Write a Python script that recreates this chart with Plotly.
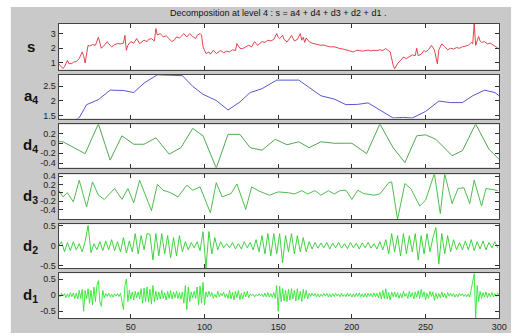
import plotly.graph_objects as go

# ---------------- data ----------------
# sample index runs 1..300
x_range = [1, 300]
x_ticks = [50, 100, 150, 200, 250, 300]

# original signal s (knots: index, value)
s_x = [1, 2, 4, 5, 7, 8, 10, 11, 13, 15, 17, 18, 19, 21, 22, 24, 26, 28, 29, 30,
       32, 34, 35, 37, 39, 41, 43, 45, 46, 47, 48, 50, 52, 54, 56, 58, 59, 61, 62, 64,
       66, 67, 68, 70, 72, 74, 76, 78, 80, 81, 83, 86, 88, 90, 92, 94, 95, 97, 98, 99,
       101, 103, 104, 106, 108, 110, 111, 113, 115, 117, 119, 121, 122, 124, 126, 128, 130, 132, 134, 136,
       138, 139, 141, 143, 145, 147, 149, 150, 151, 153, 154, 156, 158, 159, 161, 163, 165, 166, 167, 168,
       169, 171, 173, 175, 177, 179, 181, 183, 185, 188, 190, 192, 194, 197, 199, 201, 203, 205, 207, 209,
       211, 213, 215, 217, 219, 221, 223, 224, 226, 228, 229, 231, 233, 235, 237, 239, 241, 243, 244, 245,
       247, 249, 250, 252, 254, 256, 258, 259, 261, 263, 265, 267, 269, 271, 273, 275, 277, 279, 281, 282,
       283, 284, 285, 286, 287, 288, 290, 292, 294, 296, 298, 300]
s_y = [0.95, 0.85, 0.62, 0.75, 1.18, 0.95, 0.96, 1.05, 1.10, 1.30, 1.75, 1.50, 1.00, 2.20, 2.15, 2.25, 2.20, 2.75, 2.40, 2.00,
       2.20, 2.45, 2.30, 2.10, 2.25, 2.32, 2.30, 2.35, 2.88, 1.86, 2.20, 2.45, 2.35, 2.66, 2.32, 2.50, 2.55, 2.45, 2.60, 2.66,
       2.50, 3.34, 2.90, 3.00, 2.77, 2.85, 2.66, 2.45, 2.60, 2.77, 2.70, 3.00, 2.77, 3.00, 2.80, 2.66, 2.88, 3.00, 2.90, 2.10,
       1.64, 1.75, 1.60, 1.87, 1.64, 1.80, 1.85, 1.70, 1.80, 1.75, 1.90, 1.85, 2.32, 2.00, 1.98, 2.10, 2.20, 2.10, 2.45, 2.20,
       2.35, 2.45, 2.40, 2.55, 2.50, 2.60, 3.00, 2.75, 2.66, 2.88, 2.60, 2.43, 2.70, 2.88, 2.50, 2.60, 3.00, 2.55, 2.75, 2.40,
       2.70, 2.45, 2.35, 2.32, 2.25, 2.20, 2.22, 2.15, 2.10, 2.10, 2.02, 1.98, 1.95, 1.87, 1.82, 1.75, 1.85, 1.86, 1.80, 1.85,
       1.88, 1.82, 1.86, 1.84, 1.90, 1.85, 1.98, 1.90, 1.75, 0.85, 0.60, 0.95, 1.20, 1.40, 1.30, 1.45, 1.55, 1.50, 2.00, 1.50,
       1.60, 1.85, 1.75, 1.90, 2.20, 1.90, 0.95, 1.90, 2.30, 2.10, 1.90, 2.00, 1.95, 2.05, 2.00, 2.10, 2.15, 2.20, 2.40, 2.30,
       3.70, 2.20, 2.50, 2.80, 2.50, 2.40, 2.45, 2.30, 2.35, 2.20, 2.10, 1.95]

# approximation a4
a4_x = [1, 8, 15, 20, 28, 36, 45, 52, 59, 68, 77, 85, 92, 99, 108, 116, 124, 131, 139, 149,
        164, 171, 179, 188, 196, 204, 211, 219, 228, 235, 241, 250, 259, 267, 275, 282, 290, 297, 300]
a4_y = [1.05, 1.25, 1.43, 1.87, 2.04, 2.36, 2.35, 2.28, 2.60, 2.88, 2.87, 2.85, 2.49, 2.22, 2.01, 1.69, 1.96, 2.28, 2.41, 2.70,
        2.70, 2.44, 2.17, 2.06, 1.87, 1.88, 1.93, 1.69, 1.42, 1.44, 1.42, 1.64, 1.99, 1.94, 1.94, 2.17, 2.36, 2.28, 2.17]

# detail d4
d4_x = [1, 4, 19, 28, 36, 44, 52, 59, 67, 76, 84, 92, 99, 108, 116, 124, 131, 139, 148, 156,
        164, 171, 179, 188, 200, 210, 219, 228, 236, 244, 250, 257, 268, 275, 284, 293, 300]
d4_y = [0.03, 0.03, -0.21, 0.39, -0.34, 0.15, -0.02, -0.02, 0.11, -0.22, -0.09, 0.30, 0.15, -0.50, 0.18, 0.18, -0.09, -0.14, 0.08, -0.03,
        0.03, -0.09, 0.03, 0.00, 0.00, -0.21, 0.39, -0.09, -0.39, 0.15, 0.17, 0.08, -0.25, -0.15, 0.39, -0.12, -0.33]

# detail d3
d3_x = [1, 4, 7, 11, 15, 20, 24, 28, 32, 39, 44, 48, 52, 56, 64, 68, 72, 77, 82, 88,
        92, 97, 104, 108, 112, 118, 122, 128, 132, 137, 144, 150, 157, 161, 166, 170, 175, 179, 184, 188,
        192, 196, 200, 204, 208, 215, 219, 225, 227, 231, 236, 240, 246, 250, 256, 260, 263, 268, 272, 276,
        280, 283, 288, 291, 295, 299]
d3_y = [0.06, -0.10, 0.00, -0.22, 0.30, -0.34, 0.26, -0.06, -0.16, 0.10, -0.16, 0.10, -0.24, 0.30, -0.43, 0.20, 0.06, 0.00, -0.10, 0.18,
        0.06, 0.14, -0.48, 0.24, -0.10, -0.02, 0.21, -0.40, 0.14, 0.04, -0.06, 0.02, 0.00, -0.03, 0.05, -0.03, 0.05, -0.06, 0.05, -0.03,
        0.05, 0.06, -0.16, 0.06, -0.02, -0.06, -0.03, 0.24, 0.26, -0.64, 0.22, 0.10, -0.32, -0.18, 0.46, -0.50, 0.45, -0.26, 0.10, 0.12,
        -0.26, 0.30, -0.32, 0.10, 0.08, 0.05]

# detail d2 (every second sample: 1, 3, 5, ..., 299)
d2_y = [0.00, 0.10, -0.15, 0.08, -0.12, 0.10, -0.10, 0.05, -0.15, 0.10,
        0.50, -0.17, 0.05, -0.10, 0.10, -0.12, 0.12, -0.10, 0.15, -0.12,
        0.10, -0.15, 0.20, -0.18, 0.12, -0.15, 0.30, -0.20, 0.25, -0.10,
        0.30, 0.28, -0.35, 0.30, -0.25, 0.30, -0.20, 0.25, -0.30, 0.20,
        -0.25, 0.25, -0.15, 0.10, -0.10, 0.08, -0.05, 0.10, -0.12, 0.35,
        -0.55, 0.35, -0.20, 0.20, -0.10, 0.10, -0.05, 0.05, -0.05, 0.08,
        -0.08, 0.05, -0.08, 0.10, -0.05, 0.08, -0.10, 0.15, -0.15, 0.25,
        -0.20, 0.30, -0.25, 0.30, -0.20, 0.30, -0.42, 0.25, -0.15, 0.30,
        -0.20, 0.25, -0.15, 0.20, -0.15, 0.10, -0.08, 0.08, -0.06, 0.07,
        -0.05, 0.08, -0.08, 0.06, -0.05, 0.08, -0.06, 0.05, -0.07, 0.08,
        -0.05, 0.06, -0.08, 0.07, -0.05, 0.08, -0.06, 0.05, -0.08, 0.10,
        -0.10, 0.15, -0.20, 0.30, -0.15, 0.25, -0.25, 0.30, -0.20, 0.25,
        -0.15, 0.30, -0.35, 0.25, -0.20, 0.30, -0.15, 0.20, 0.45, -0.45,
        0.30, -0.20, 0.25, -0.15, 0.15, -0.10, 0.08, -0.10, 0.12, -0.10,
        0.15, -0.12, 0.10, -0.08, 0.12, -0.10, 0.08, -0.05, 0.10, -0.05]

# detail d1 (every sample: 1..300)
d1_y = [0.02, -0.05, 0.06, -0.03, 0.05, -0.08, 0.04, -0.06, 0.08, -0.05, 0.07, -0.10, 0.06, -0.12, 0.15, -0.10, 0.18, -0.50, 0.15, -0.12,
        0.20, -0.25, 0.15, -0.30, 0.25, -0.20, 0.30, 0.45, -0.20, -0.35, 0.15, -0.08, 0.05, -0.04, 0.06, -0.05, 0.03, -0.06, 0.04, -0.03,
        0.05, -0.04, 0.06, -0.20, -0.45, 0.30, 0.50, -0.20, 0.15, -0.12, 0.10, -0.15, 0.12, -0.08, 0.10, -0.12, 0.20, -0.25, 0.22, -0.20,
        0.25, -0.22, 0.18, -0.28, 0.30, -0.20, 0.12, -0.15, 0.10, -0.12, 0.15, -0.10, 0.08, -0.15, 0.12, -0.10, 0.14, -0.12, 0.10, -0.08,
        0.12, -0.10, 0.08, -0.12, 0.10, -0.25, 0.30, -0.45, 0.25, -0.20, 0.10, -0.08, 0.12, -0.10, 0.25, -0.30, 0.28, -0.25, 0.40, -0.30,
        0.10, -0.06, 0.12, -0.04, 0.08, -0.10, 0.03, -0.08, 0.12, -0.05, 0.06, -0.02, 0.09, -0.07, 0.04, -0.10, 0.15, -0.12, 0.08, -0.15,
        0.12, -0.08, 0.15, -0.14, 0.06, -0.12, 0.10, -0.05, 0.12, -0.08, 0.04, -0.02, 0.03, -0.05, 0.02, -0.03, 0.04, -0.02, 0.03, -0.05,
        0.06, -0.05, 0.08, -0.06, 0.05, -0.07, 0.08, -0.10, 0.30, -0.50, 0.28, -0.20, 0.20, -0.18, 0.15, -0.20, 0.18, -0.15, 0.20, -0.12,
        0.15, -0.18, 0.20, -0.15, 0.12, -0.20, 0.18, -0.10, 0.15, -0.12, 0.05, -0.04, 0.06, -0.03, 0.05, -0.05, 0.04, -0.06, 0.03, -0.04,
        0.05, -0.03, 0.06, -0.05, 0.04, -0.06, 0.05, -0.04, 0.06, -0.03, 0.04, -0.05, 0.06, -0.04, 0.03, -0.05, 0.06, -0.04, 0.05, -0.06,
        0.04, -0.05, 0.06, -0.04, 0.07, -0.05, 0.04, -0.06, 0.05, -0.07, 0.06, -0.04, 0.05, -0.06, 0.07, -0.05, 0.06, -0.08, 0.10, -0.12,
        0.15, -0.10, 0.20, -0.12, 0.08, -0.15, 0.10, -0.05, 0.10, -0.06, 0.08, -0.10, 0.05, -0.08, 0.12, -0.04, 0.05, -0.10, 0.12, -0.06,
        0.08, -0.12, 0.10, -0.06, 0.14, -0.10, 0.18, -0.05, 0.10, -0.14, 0.06, -0.10, 0.12, -0.04, 0.10, -0.16, 0.06, -0.10, 0.05, -0.08,
        0.10, -0.06, 0.05, -0.10, 0.08, -0.03, 0.06, -0.04, 0.05, -0.06, 0.03, -0.05, 0.06, -0.02, 0.05, -0.04, 0.03, -0.05, 0.04, -0.06,
        0.15, 0.40, 0.67, -0.71, 0.30, -0.20, 0.12, -0.10, 0.08, -0.06, 0.10, -0.08, 0.06, -0.05, 0.08, -0.06, 0.05, -0.04, 0.06, 0.02]

d2_x = list(range(1, 2 * len(d2_y), 2))
d1_x = list(range(1, len(d1_y) + 1))

title_text = "Decomposition at level 4 : s = a4 + d4 + d3 + d2 + d1 ."

# ---------------- layout helpers ----------------
W, H = 523, 336
X0, X1 = 59.5, 507.0            # plot box left/right (px)
boxes = [(20, 67), (72, 117), (123, 167), (174, 220), (225, 270), (275, 321)]

panels = [
    dict(name="<b>s</b>", x=s_x, y=s_y, color="#e0303c", rng=[0.55, 3.68],
         tv=[1, 2, 3], tt=["1", "2", "3"]),
    dict(name="<b>a</b><sub><b>4</b></sub>", x=a4_x, y=a4_y, color="#4444cc", rng=[1.40, 2.89],
         tv=[1.5, 2, 2.5], tt=["1.5", "2", "2.5"]),
    dict(name="<b>d</b><sub><b>4</b></sub>", x=d4_x, y=d4_y, color="#3d9e3d", rng=[-0.49, 0.38],
         tv=[-0.4, -0.2, 0, 0.2], tt=["-0.4", "-0.2", "0", "0.2"]),
    dict(name="<b>d</b><sub><b>3</b></sub>", x=d3_x, y=d3_y, color="#3cb43c", rng=[-0.64, 0.44],
         tv=[-0.4, -0.2, 0, 0.2, 0.4], tt=["-0.4", "-0.2", "0", "0.2", "0.4"]),
    dict(name="<b>d</b><sub><b>2</b></sub>", x=d2_x, y=d2_y, color="#2ecc2e", rng=[-0.56, 0.53],
         tv=[-0.5, 0, 0.5], tt=["-0.5", "0", "0.5"]),
    dict(name="<b>d</b><sub><b>1</b></sub>", x=d1_x, y=d1_y, color="#2ee62e", rng=[-0.72, 0.68],
         tv=[-0.5, 0, 0.5], tt=["-0.5", "0", "0.5"]),
]

FONT = "Liberation Sans, Arial, sans-serif"
fig = go.Figure()
shapes = [dict(type="rect", xref="paper", yref="paper", x0=11 / W, x1=519 / W, y0=0, y1=1 - 3 / H,
               fillcolor="#c9c9c9", line=dict(width=0), layer="below")]
annotations = []
layout_axes = {}

for i, p in enumerate(panels, start=1):
    top, bot = boxes[i - 1]
    sfx = "" if i == 1 else str(i)
    fig.add_trace(go.Scatter(x=p["x"], y=p["y"], mode="lines",
                             line=dict(color=p["color"], width=0.9),
                             xaxis="x" + sfx, yaxis="y" + sfx, showlegend=False,
                             hoverinfo="skip"))
    layout_axes["xaxis" + sfx] = dict(
        domain=[X0 / W, X1 / W], range=x_range, anchor="y" + sfx,
        tickvals=x_ticks, ticktext=[str(v) for v in x_ticks],
        showticklabels=(i == len(panels)), ticks="inside", ticklen=4, tickcolor="#333",
        mirror="allticks", showline=True, linecolor="#444", linewidth=1,
        showgrid=False, zeroline=False, tickfont=dict(family=FONT, size=9, color="#222"))
    layout_axes["yaxis" + sfx] = dict(
        domain=[1 - bot / H, 1 - top / H], range=p["rng"], anchor="x" + sfx,
        tickvals=p["tv"], ticktext=p["tt"], ticks="inside", ticklen=4, tickcolor="#333",
        mirror="allticks", showline=True, linecolor="#444", linewidth=1,
        showgrid=False, zeroline=False, tickfont=dict(family=FONT, size=9, color="#222"))
    shapes.append(dict(type="rect", xref="paper", yref="paper", x0=X0 / W, x1=X1 / W,
                       y0=1 - bot / H, y1=1 - top / H, fillcolor="white",
                       line=dict(width=0), layer="below"))
    annotations.append(dict(text=p["name"], xref="paper", yref="paper",
                            x=31 / W, y=1 - (top + bot) / 2 / H, xanchor="center", yanchor="middle",
                            showarrow=False, font=dict(family=FONT, size=15, color="#111")))

annotations.append(dict(text=title_text, xref="paper", yref="paper", x=282 / W, y=1 - 9.5 / H,
                        xanchor="center", yanchor="middle", showarrow=False,
                        font=dict(family=FONT, size=9, color="#111")))

fig.update_layout(width=W, height=H, margin=dict(l=0, r=0, t=0, b=0),
                  paper_bgcolor="white", plot_bgcolor="rgba(0,0,0,0)",
                  shapes=shapes, annotations=annotations, **layout_axes)

fig.write_html("out.html")
